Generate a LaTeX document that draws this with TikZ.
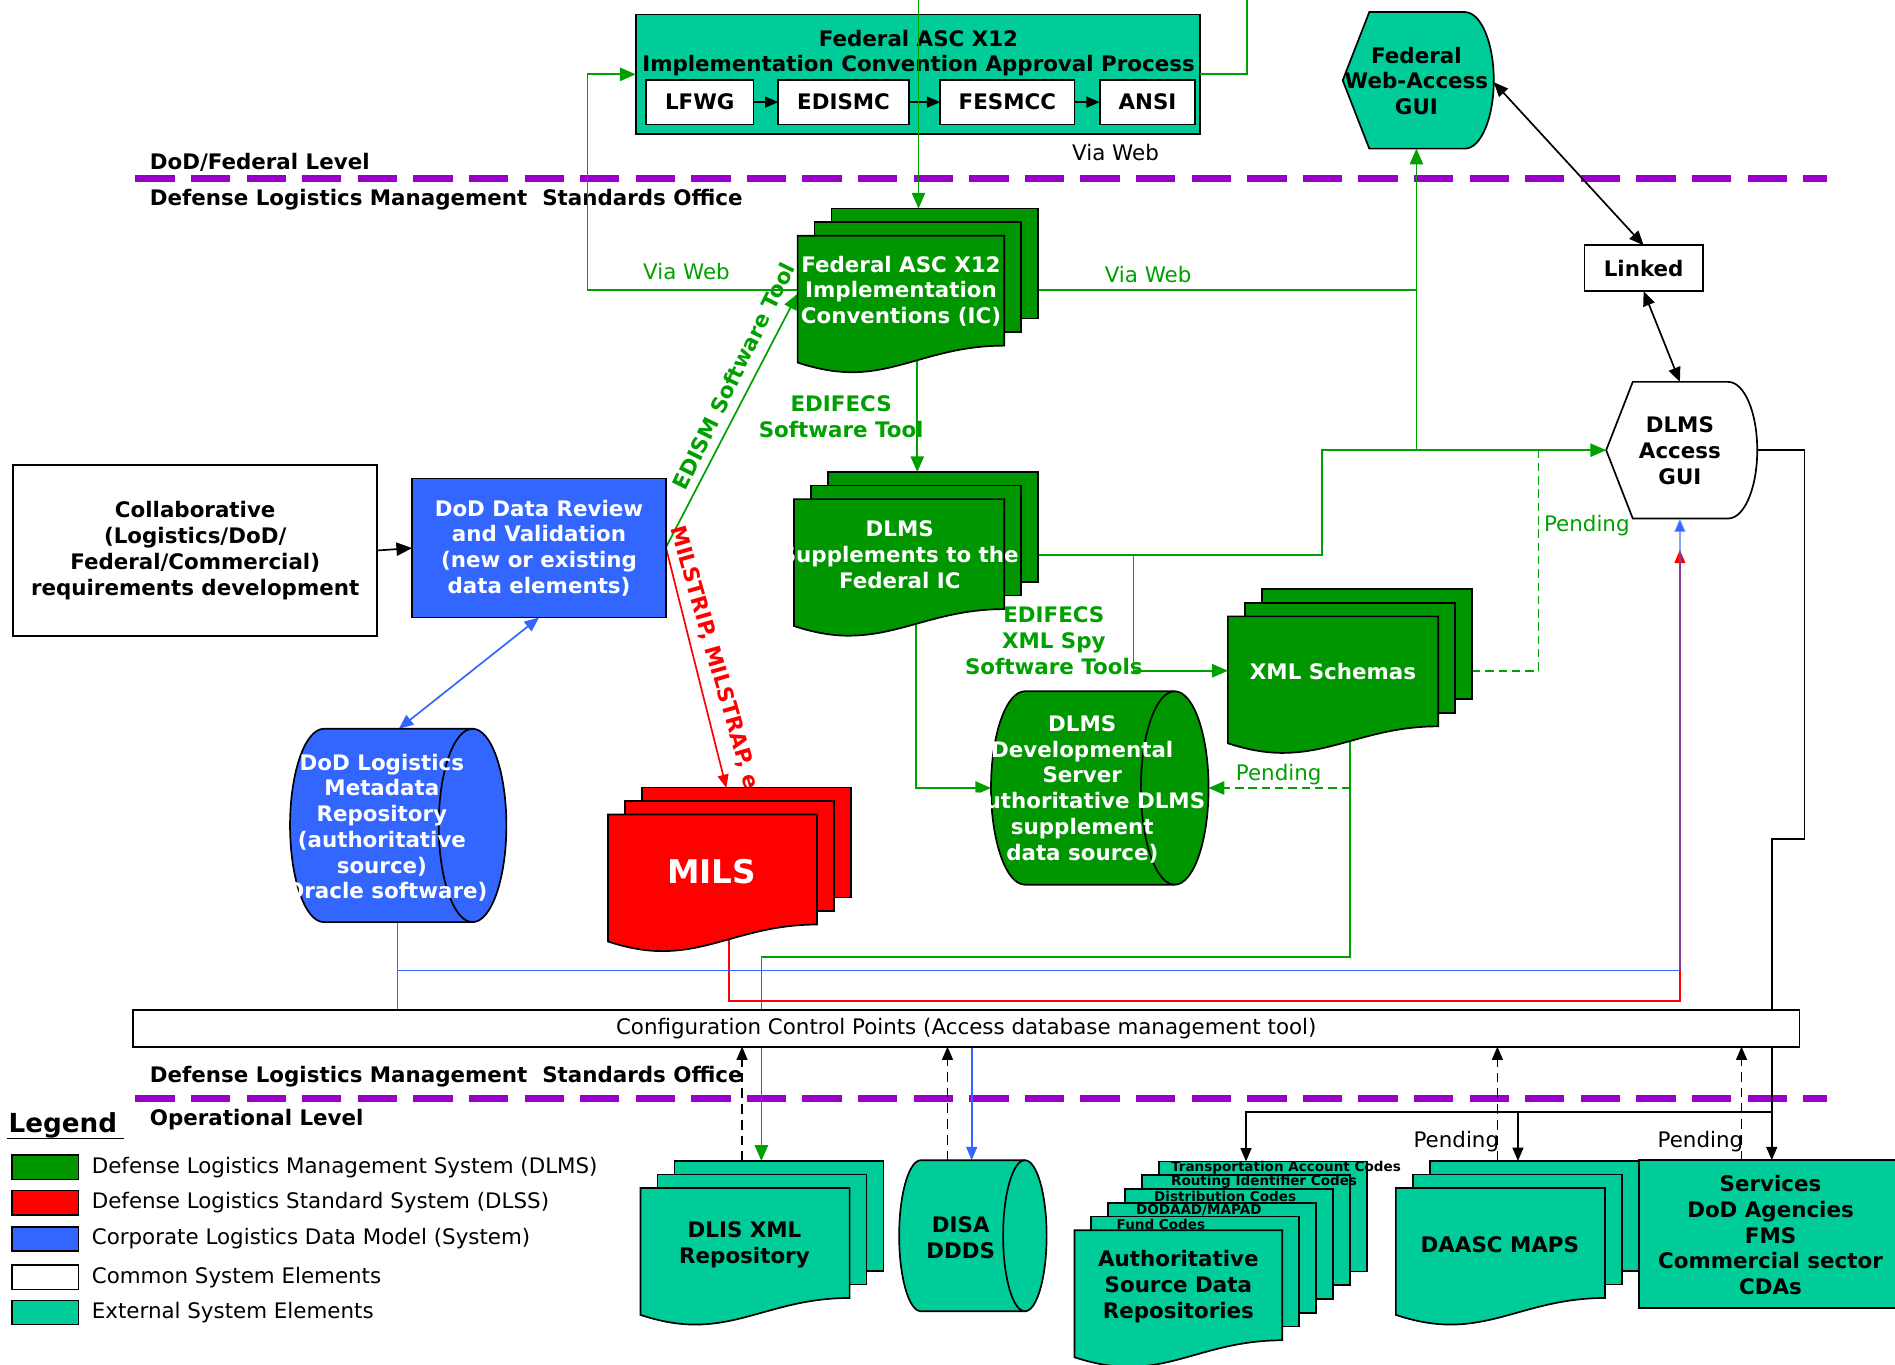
\documentclass[tikz,border=0pt]{standalone}
\usepackage{fontspec}
\setmainfont{DejaVu Sans}
\usetikzlibrary{arrows.meta}
\definecolor{dlmsgreen}{RGB}{0,150,0}
\definecolor{lgreen}{RGB}{0,160,0}
\definecolor{extteal}{RGB}{0,204,153}
\definecolor{clblue}{RGB}{51,102,255}
\definecolor{dlssred}{RGB}{255,0,0}
\definecolor{lvlpurple}{RGB}{153,0,204}

\newcommand{\mypage}[4]{\filldraw[fill=#4,draw=black,line width=1.4pt] (#1,#2) rectangle ++(#3,91);}
\newcommand{\myfront}[4]{%
  \begin{scope}[shift={(#1,#2)}]
    \filldraw[fill=#4,draw=black,line width=1.4pt] (0,0) -- (#3,0) -- (#3,91)
      .. controls (#3-55,91) and (#3-85,113) .. (45,113)
      .. controls (28,113) and (12,109) .. (0,105) -- cycle;
  \end{scope}}
\newcommand{\mystack}[6]{%
  \foreach \k in {#5,...,1}{\mypage{#1+14*\k}{#2-#6*\k}{#3}{#4}}
  \myfront{#1}{#2}{#3}{#4}}
\newcommand{\mycyl}[6]{% x0 x1 cy ry rx fill
  \pgfmathsetmacro\cylA{#1+#5}\pgfmathsetmacro\cylB{#2-#5}%
  \pgfmathsetmacro\cylKx{0.5523*#5}\pgfmathsetmacro\cylKy{0.5523*#4}%
  \filldraw[fill=#6,draw=black,line width=1.4pt]
    (\cylA,#3-#4) -- (\cylB,#3-#4)
    .. controls (\cylB+\cylKx,#3-#4) and (#2,#3-\cylKy) .. (#2,#3)
    .. controls (#2,#3+\cylKy) and (\cylB+\cylKx,#3+#4) .. (\cylB,#3+#4)
    -- (\cylA,#3+#4)
    .. controls (\cylA-\cylKx,#3+#4) and (#1,#3+\cylKy) .. (#1,#3)
    .. controls (#1,#3-\cylKy) and (\cylA-\cylKx,#3-#4) .. (\cylA,#3-#4) -- cycle;
  \draw[line width=1.4pt] (\cylB,#3-#4)
    .. controls (\cylB-\cylKx,#3-#4) and (\cylB-#5,#3-\cylKy) .. (\cylB-#5,#3)
    .. controls (\cylB-#5,#3+\cylKy) and (\cylB-\cylKx,#3+#4) .. (\cylB,#3+#4);}
\newcommand{\mygui}[5]{% x0 x1 top bot fill
  \pgfmathsetmacro\guiC{(#3+#4)/2}\pgfmathsetmacro\guiR{(#4-#3)/2}%
  \pgfmathsetmacro\guiK{0.5523*\guiR}%
  \filldraw[fill=#5,draw=black,line width=1.4pt]
    (#1,\guiC) -- (#1+22,#3) -- (#2-24,#3)
    .. controls (#2-10.7,#3) and (#2,\guiC-\guiK) .. (#2,\guiC)
    .. controls (#2,\guiC+\guiK) and (#2-10.7,#4) .. (#2-24,#4)
    -- (#1+22,#4) -- cycle;}

\begin{document}
\begin{tikzpicture}[x=1pt,y=-1pt,
  every node/.style={inner sep=0pt,outer sep=0pt},
  bt/.style={font=\fontsize{17.7}{21.3}\selectfont\bfseries,align=center},
  nt/.style={font=\fontsize{17.7}{21.3}\selectfont,align=center},
  st/.style={font=\fontsize{11.2}{12}\selectfont\bfseries,anchor=west},
  ln/.style={line width=1.4pt},
  gl/.style={draw=lgreen,line width=1.4pt},
  gd/.style={draw=lgreen,line width=1.4pt,dash pattern=on 7pt off 4pt},
  bd/.style={draw=black,line width=1.4pt,dash pattern=on 8pt off 5pt},
  arr/.style={-{Triangle[length=13pt,width=11pt]}},
  sarr/.style={-{Triangle[length=11pt,width=9pt]}},
  darr/.style={{Triangle[length=12pt,width=10pt]}-{Triangle[length=12pt,width=10pt]}},
  lvl/.style={draw=lvlpurple,line width=6pt,dash pattern=on 32.5pt off 13.5pt},
  wbox/.style={draw=black,fill=white,line width=1.5pt},
]
\useasboundingbox (0,0) rectangle (1568,1129);
\clip (0,0) rectangle (1568,1129);

% ---------- level separators ----------
\draw[lvl] (112,148) -- (1512,148);
\draw[lvl] (112,909) -- (1512,909);
\node[bt,anchor=west] (fedlvl) at (124,134) {DoD/Federal Level};
\node[bt,anchor=west] (dlso1) at (124,165) {Defense Logistics Management\ \ Standards Office};
\node[bt,anchor=west] (dlso2) at (124,891) {Defense Logistics Management\ \ Standards Office};
\node[bt,anchor=west] (oplvl) at (124,926) {Operational Level};

% ---------- approval process box ----------
\node[draw=black,fill=extteal,line width=1.5pt,minimum width=467,minimum height=99] (fap) at (759.5,61.5) {};
\node[bt] (faptitle) at (760,44) {Federal ASC X12\\Implementation Convention Approval Process};
\node[wbox,bt,minimum width=89,minimum height=37] (lfwg) at (579,84.5) {LFWG};
\node[wbox,bt,minimum width=108,minimum height=37] (edismc) at (698,84.5) {EDISMC};
\node[wbox,bt,minimum width=111,minimum height=37] (fesmcc) at (833.5,84.5) {FESMCC};
\node[wbox,bt,minimum width=79,minimum height=37] (ansi) at (949.5,84.5) {ANSI};
\draw[ln,sarr] (lfwg) -- (edismc);
\draw[ln,sarr] (edismc) -- (fesmcc);
\draw[ln,sarr] (fesmcc) -- (ansi);
\node[nt] (vwtop) at (923,126) {Via Web};

% ---------- coordinates ----------
\coordinate (topin) at (760,0);
\coordinate (topout) at (1032,0);
\coordinate (ic-top) at (760,172.6);
\coordinate (ic-west) at (660,240);
\coordinate (ic-w2) at (660,243);
\coordinate (ic-east) at (859,240);
\coordinate (ic-bot) at (759,296);
\coordinate (vwl) at (486,240);
\coordinate (j1) at (1172,240);
\coordinate (j2) at (1172,372.5);
\coordinate (agui-w) at (1329,372.5);
\coordinate (supp-top) at (759,390.6);
\coordinate (supp-east) at (859,459);
\coordinate (supp-bot) at (758,505);
\coordinate (j3) at (1094,459);
\coordinate (j4) at (938,459);
\coordinate (xml-west) at (1016,555);
\coordinate (xml-east) at (1218,555);
\coordinate (xml-bot) at (1117,608);
\coordinate (j6) at (1273,372.5);
\coordinate (j7) at (1117,652);
\coordinate (j8) at (1117,792);
\coordinate (dev-west) at (820,652);
\coordinate (dev-east) at (1000,652);
\coordinate (dlis-top) at (630,960.6);
\coordinate (dlis-dash) at (614,960.6);
\coordinate (disa-top) at (804,960);
\coordinate (disa-dash) at (784,960);
\coordinate (daasc-top) at (1256,960.6);
\coordinate (daasc-dash) at (1239,960.6);
\coordinate (svc-top) at (1466,960);
\coordinate (svc-dash) at (1441,960);
\coordinate (asdr-top) at (1031,961);
\coordinate (mils-top) at (601,652);
\coordinate (mils-bot) at (603,778);
\coordinate (repo-top) at (330,603);
\coordinate (repo-bot) at (329,763);
\coordinate (ddr-s) at (446,511);
\coordinate (j9) at (329,803);
\coordinate (j10) at (1390,803);
\coordinate (j11) at (1390,828);
\coordinate (redtip) at (1390,455);
\coordinate (bluetip) at (1390,429);
\coordinate (agui-e) at (1454,372.5);
\coordinate (k1) at (1493,372.5);
\coordinate (k2) at (1493,694);
\coordinate (k3) at (1466,694);
\coordinate (k4) at (1466,920);
\coordinate (k5) at (1256,920);
\coordinate (fgui-e) at (1236,68);
\coordinate (fgui-s) at (1172,123);
\coordinate (agui-n) at (1390,316);
\coordinate (ccp-b1) at (614,866);
\coordinate (ccp-b2) at (784,866);
\coordinate (ccp-b3) at (804,866);
\coordinate (ccp-b4) at (1239,866);
\coordinate (ccp-b5) at (1441,866);
\coordinate (ccp-t1) at (329,836);

% ---------- green connectors ----------
\draw[gl,arr] (topin) -- (ic-top);
\draw[gl] (fap.east) -| (topout);
\draw[gl,arr] (ic-west) -- (vwl) |- (fap.west);
\node[nt,text=lgreen] (vw1) at (568,225) {Via Web};
\draw[gl] (ic-east) -- (j1);
\draw[gl,arr] (j2) -- (fgui-s);
\node[nt,text=lgreen] (vw2) at (950,227) {Via Web};
\draw[gl,arr] (supp-east) -- (j3) |- (agui-w);
\draw[gl,arr] (j4) |- (xml-west);
\draw[gl,arr] (ic-bot) -- (supp-top);
\draw[gl,arr] (supp-bot) |- (dev-west);
\draw[gd] (xml-east) -| (j6);
\draw[gd,arr] (j7) -- (dev-east);
\draw[gl,arr] (xml-bot) -- (j8) -| (dlis-top);
\node[nt,text=lgreen] (pend1) at (1313,435) {Pending};
\node[nt,text=lgreen] (pend2) at (1058,641) {Pending};
\node[bt,text=lgreen] (edif1) at (696,344.5) {EDIFECS\\Software Tool};
\node[bt,text=lgreen] (edif2) at (872,530) {EDIFECS\\XML Spy\\Software Tools};

% ---------- EDISM / MILSTRIP ----------
\coordinate (ddr-e) at (551,453);
\draw[gl,arr] (ddr-e) -- (ic-w2);
\node[bt,text=lgreen,rotate=63.8] (edism) at (607,311) {EDISM Software Tool};
\draw[ln,draw=dlssred,sarr] (ddr-e) -- (mils-top);
\node[bt,text=dlssred,rotate=-74,anchor=west] (milstrip) at (560,436) {MILSTRIP, MILSTRAP, etc.};

% ---------- blue / red feedback ----------
\draw[ln,draw=clblue,darr] (ddr-s) -- (repo-top);
\draw[ln,draw=dlssred,sarr] (mils-bot) |- (j11) -- (redtip);
\draw[ln,draw=clblue] (repo-bot) -- (ccp-t1);
\draw[ln,draw=clblue] (j9) -- (j10);
\draw[ln,draw=clblue,draw opacity=0.6,sarr] (j10) -- (bluetip);
\draw[ln,draw=clblue,sarr] (ccp-b3) -- (disa-top);

% ---------- black connectors ----------
\draw[ln,sarr] (agui-e) -- (k1) -- (k2) -- (k3) -- (svc-top);
\draw[ln,sarr] (k4) -| (asdr-top);
\draw[ln,sarr] (k5) -- (daasc-top);
\draw[ln,darr] (fgui-e) -- (1360,203);
\draw[ln,darr] (1360,241) -- (agui-n);
\draw[bd,sarr] (dlis-dash) -- (ccp-b1);
\draw[bd,sarr] (disa-dash) -- (ccp-b2);
\draw[bd,sarr] (daasc-dash) -- (ccp-b4);
\draw[bd,sarr] (svc-dash) -- (ccp-b5);
\node[nt] (pend3) at (1205,945) {Pending};
\node[nt] (pend4) at (1407,945) {Pending};

% ---------- shapes ----------
\mygui{1111}{1236}{10}{123}{extteal}
\node[bt] (fgui) at (1172,67) {Federal\\Web-Access\\GUI};
\node[wbox,bt,minimum width=98,minimum height=38] (linked) at (1360,222) {Linked};
\mygui{1329}{1454}{316}{429}{white}
\node[bt] (agui) at (1390,373) {DLMS\\Access\\GUI};

\node[wbox,bt,minimum width=301,minimum height=141] (collab) at (161.5,455.5) {Collaborative\\(Logistics/DoD/\\Federal/Commercial)\\requirements development};
\node[draw=black,fill=clblue,line width=1.5pt,bt,text=white,minimum width=210,minimum height=115] (ddr) at (446,453.5) {DoD Data Review\\and Validation\\(new or existing\\data elements)};
\draw[ln,arr] (collab.east) -- (ddr.west);

\mycyl{240}{419}{683}{80}{28}{clblue}
\node[bt,text=white] (repo) at (316,685) {DoD Logistics\\Metadata\\Repository\\(authoritative\\source)\\(Oracle software)};

\mystack{660}{195}{171}{dlmsgreen}{2}{11.2}
\node[bt,text=white] (ic) at (745.5,241) {Federal ASC X12\\Implementation\\Conventions (IC)};
\mystack{657}{413}{174}{dlmsgreen}{2}{11.2}
\node[bt,text=white] (supp) at (744.5,459) {DLMS\\Supplements to the\\Federal IC};
\mystack{1016}{510}{174}{dlmsgreen}{2}{11.2}
\node[bt,text=white] (xml) at (1103,556) {XML Schemas};
\mystack{503}{674}{173}{dlssred}{2}{11.2}
\node[font=\fontsize{27}{30}\selectfont\bfseries,text=white] (mils) at (589,721) {MILS};
\mycyl{820}{1000}{652}{80}{28}{dlmsgreen}
\node[bt,text=white] (dev) at (895.5,653) {DLMS\\Developmental\\Server\\(Authoritative DLMS\\supplement\\data source)};

% ---------- configuration control ----------
\node[wbox,nt,minimum width=1379,minimum height=30] (ccp) at (799.5,851) {Configuration Control Points (Access database management tool)};

% ---------- operational level ----------
\mystack{530}{983}{173}{extteal}{2}{11.2}
\node[bt] (dlis) at (616,1030) {DLIS XML\\Repository};
\mycyl{744}{866}{1022.5}{62.5}{18}{extteal}
\node[bt] (disa) at (795,1024) {DISA\\DDDS};

\mypage{959}{961}{172}{extteal}
\node[st] (tac) at (969,966.5) {Transportation Account Codes};
\mypage{945}{972.4}{172}{extteal}
\node[st] (ric) at (969,978) {Routing Identifier Codes};
\mypage{931}{983.8}{172}{extteal}
\node[st] (dc) at (955,990) {Distribution Codes};
\mypage{917}{995.2}{172}{extteal}
\node[st] (dod) at (940,1001.5) {DODAAD/MAPAD};
\mypage{903}{1006.6}{172}{extteal}
\node[st] (fc) at (924,1013) {Fund Codes};
\myfront{889}{1018}{172}{extteal}
\node[bt] (asdr) at (975,1064.5) {Authoritative\\Source Data\\Repositories};

\mystack{1155}{983}{173}{extteal}{2}{11.2}
\node[bt] (daasc) at (1241,1030) {DAASC MAPS};
\filldraw[fill=extteal,draw=black,line width=1.5pt] (1356,960) rectangle (1600,1082);
\node[bt] (svc) at (1465,1022) {Services\\DoD Agencies\\FMS\\Commercial sector\\CDAs};

% ---------- legend ----------
\node[font=\fontsize{21.7}{26}\selectfont\bfseries] (legend) at (52,931) {Legend};
\draw[line width=1.5pt] (6,942) -- (103,942);
\filldraw[fill=dlmsgreen,draw=black,line width=1.5pt] (10,956) rectangle (65,976);
\filldraw[fill=dlssred,draw=black,line width=1.5pt] (10,985) rectangle (65,1005);
\filldraw[fill=clblue,draw=black,line width=1.5pt] (10,1015) rectangle (65,1035);
\filldraw[fill=white,draw=black,line width=1.5pt] (10,1047) rectangle (65,1067);
\filldraw[fill=extteal,draw=black,line width=1.5pt] (10,1076) rectangle (65,1096);
\node[nt,anchor=west] (lg1) at (76,966) {Defense Logistics Management System (DLMS)};
\node[nt,anchor=west] (lg2) at (76,995) {Defense Logistics Standard System (DLSS)};
\node[nt,anchor=west] (lg3) at (76,1025) {Corporate Logistics Data Model (System)};
\node[nt,anchor=west] (lg4) at (76,1057) {Common System Elements};
\node[nt,anchor=west] (lg5) at (76,1086) {External System Elements};
\end{tikzpicture}
\end{document}
